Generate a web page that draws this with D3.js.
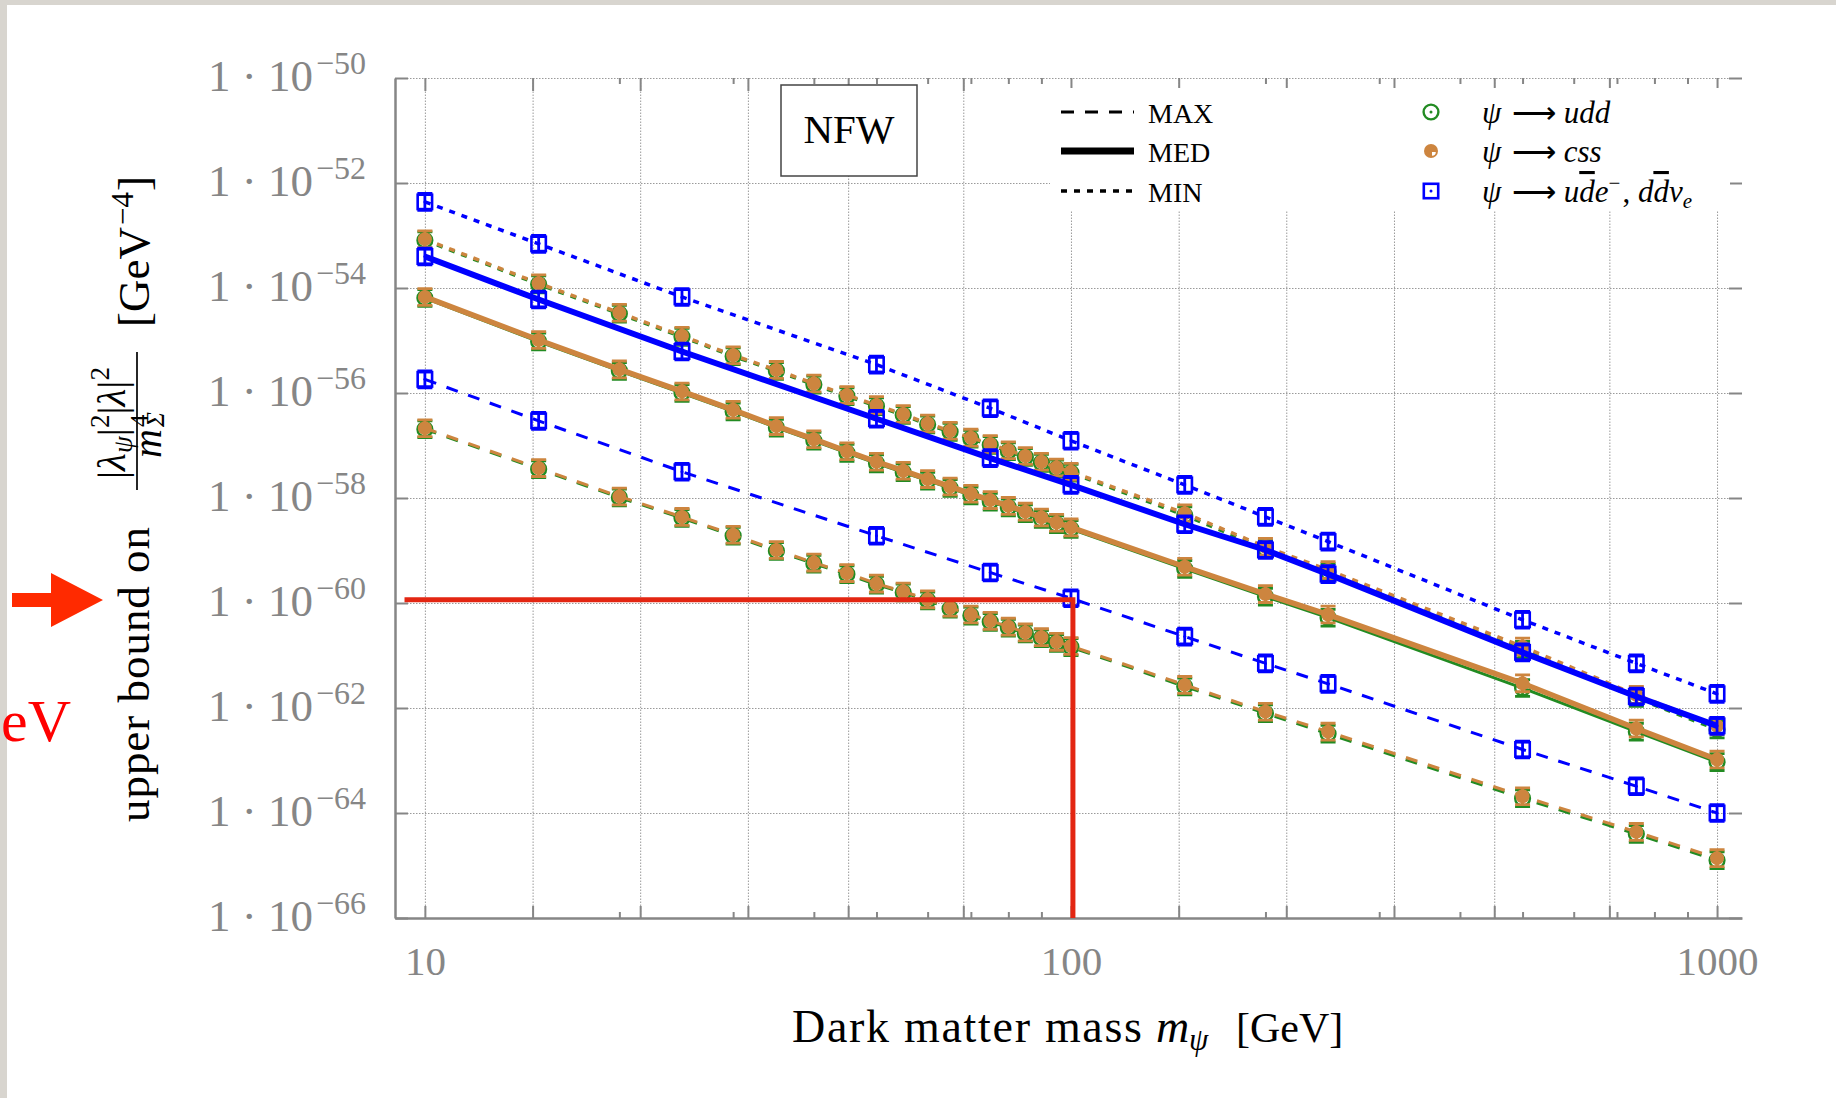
<!DOCTYPE html>
<html>
<head>
<meta charset="utf-8">
<script src="https://cdn.jsdelivr.net/npm/d3@7/dist/d3.min.js"></script>
<style>
  body { margin: 0; background: #fff; }
  text { font-family: "Liberation Serif", "Times New Roman", serif; }
</style>
</head>
<body>
<div id="chart"></div>
<script>
// ---------------- data (log10 of the upper bound, GeV^-4) ----------------
// masses of the udd / css scans
var massFine = [10, 15, 20, 25, 30, 35, 40, 45, 50, 55, 60, 65, 70, 75, 80, 85, 90, 95, 100, 150, 200, 250, 500, 750, 1000];
// masses of the u dbar e / d dbar nu scan
var massBlue = [10, 15, 25, 50, 75, 100, 150, 200, 250, 500, 750, 1000];

var uddMax = [-56.69, -57.45, -57.99, -58.38, -58.72, -59.01, -59.25, -59.45, -59.65, -59.80, -59.95, -60.11, -60.24, -60.36, -60.47, -60.58, -60.67, -60.76, -60.84, -61.59, -62.10, -62.49, -63.72, -64.40, -64.90];
var uddMed = [-54.19, -55.02, -55.58, -56.00, -56.35, -56.66, -56.91, -57.14, -57.34, -57.51, -57.67, -57.81, -57.95, -58.07, -58.18, -58.29, -58.40, -58.50, -58.59, -59.35, -59.88, -60.28, -61.62, -62.45, -63.03];
var uddMin = [-53.09, -53.93, -54.49, -54.93, -55.30, -55.58, -55.84, -56.06, -56.25, -56.42, -56.60, -56.74, -56.87, -56.99, -57.11, -57.22, -57.33, -57.44, -57.52, -58.33, -58.97, -59.41, -60.89, -61.81, -62.41];

var cssMax = [-56.67, -57.43, -57.97, -58.36, -58.70, -58.99, -59.23, -59.43, -59.63, -59.78, -59.93, -60.09, -60.22, -60.34, -60.45, -60.56, -60.65, -60.74, -60.82, -61.56, -62.07, -62.45, -63.68, -64.36, -64.86];
var cssMed = [-54.17, -54.99, -55.55, -55.97, -56.32, -56.63, -56.88, -57.11, -57.31, -57.48, -57.64, -57.78, -57.92, -58.04, -58.15, -58.26, -58.37, -58.47, -58.56, -59.31, -59.83, -60.22, -61.53, -62.39, -62.98];
var cssMin = [-53.07, -53.91, -54.47, -54.91, -55.28, -55.56, -55.82, -56.04, -56.23, -56.40, -56.58, -56.72, -56.85, -56.97, -57.09, -57.20, -57.31, -57.42, -57.50, -58.29, -58.93, -59.37, -60.83, -61.75, -62.34];

var udeMax = [-55.74, -56.53, -57.50, -58.72, -59.42, -59.91, -60.64, -61.15, -61.54, -62.79, -63.49, -64.00];
var udeMed = [-53.40, -54.22, -55.21, -56.49, -57.24, -57.75, -58.50, -58.99, -59.45, -60.94, -61.78, -62.34];
var udeMin = [-52.36, -53.16, -54.17, -55.46, -56.29, -56.91, -57.75, -58.36, -58.83, -60.32, -61.15, -61.73];

// half-height of the error bars, in decades
var errDex = 0.16;

// axes
var xDomain = [8.99, 1093];
var yExponents = [-50, -52, -54, -56, -58, -60, -62, -64, -66];
var xGridTicks = [10, 14.68, 21.54, 31.62, 45.2, 68.13, 100, 146.8, 215.4, 316.2, 452, 681.3, 1000];
var xMinorTicks = [20, 30, 40, 50, 60, 70, 80, 90, 200, 300, 400, 500, 600, 700, 800, 900];
var xLabelTicks = [10, 100, 1000];

// legend texts
var profileNames = ["MAX", "MED", "MIN"];
var profileKeys = ["max", "med", "min"];
var channelLabels = [
  [["ψ", "i"], [" ⟶ ", "r"], ["udd", "i"]],
  [["ψ", "i"], [" ⟶ ", "r"], ["css", "i"]],
  [["ψ", "i"], [" ⟶ ", "r"], ["u", "i"], ["d", "o"], ["e", "i"], ["−", "sup"], [", ", "r"], ["d", "i"], ["d", "o"], ["ν", "i"], ["e", "sub"]]
];
var haloName = "NFW";

// the red mark: 100 GeV and the bound it reads off
var markMass = 100.7;
var markStart = 9.3;
var markBound = 1.15e-60;

// ---------------- layout ----------------
var svgWidth = 1836;
var svgHeight = 1098;
var plot = { left: 395, right: 1742, top: 78, bottom: 918 };
var grey = "#868686";

var svg = d3.select("#chart").append("svg")
  .attr("width", svgWidth)
  .attr("height", svgHeight);

// grey page border from the slide
svg.append("rect").attr("x", 0).attr("y", 0).attr("width", svgWidth).attr("height", 5).attr("fill", "#d8d5cf");
svg.append("rect").attr("x", 0).attr("y", 0).attr("width", 7).attr("height", svgHeight).attr("fill", "#d8d5cf");

var x = d3.scaleLog().domain(xDomain).range([plot.left, plot.right]);
var y = d3.scaleLog()
  .domain([Math.pow(10, -66), Math.pow(10, -50)])
  .range([plot.bottom, plot.top]);
var yTicks = yExponents.map(e => Math.pow(10, e));

// ---------------- grid ----------------
var gridX = svg.append("g")
  .attr("transform", `translate(0, ${plot.bottom})`)
  .call(d3.axisBottom(x).tickValues(xGridTicks).tickSize(-(plot.bottom - plot.top)).tickFormat(""));
var gridY = svg.append("g")
  .attr("transform", `translate(${plot.left}, 0)`)
  .call(d3.axisLeft(y).tickValues(yTicks).tickSize(-(plot.right - plot.left)).tickFormat(""));
[gridX, gridY].forEach(function(g) {
  g.select(".domain").remove();
  g.selectAll(".tick line")
    .attr("stroke", "#9a9a9a")
    .attr("stroke-width", 1)
    .attr("stroke-dasharray", "1.5 1.5");
});

// ---------------- axes ----------------
function styleAxis(g) {
  g.attr("color", grey);
  g.selectAll(".tick line").attr("stroke-width", 2);
  g.select(".domain").attr("stroke-width", 2.5);
}

var bottomAxis = svg.append("g")
  .attr("transform", `translate(0, ${plot.bottom})`)
  .call(d3.axisBottom(x).tickValues(xGridTicks).tickSize(-12).tickSizeOuter(0).tickPadding(28)
    .tickFormat(d => xLabelTicks.indexOf(d) >= 0 ? String(d) : ""));
bottomAxis.attr("font-family", "'Liberation Serif', serif").attr("font-size", 41);
styleAxis(bottomAxis);

var bottomMinor = svg.append("g")
  .attr("transform", `translate(0, ${plot.bottom})`)
  .call(d3.axisBottom(x).tickValues(xMinorTicks).tickSize(-6).tickFormat(""));
bottomMinor.select(".domain").remove();
styleAxis(bottomMinor);

var topAxis = svg.append("g")
  .attr("transform", `translate(0, ${plot.top})`)
  .call(d3.axisTop(x).tickValues(xGridTicks).tickSize(-13).tickFormat(""));
topAxis.select(".domain").remove();
styleAxis(topAxis);

var topMinor = svg.append("g")
  .attr("transform", `translate(0, ${plot.top})`)
  .call(d3.axisTop(x).tickValues(xMinorTicks).tickSize(-6).tickFormat(""));
topMinor.select(".domain").remove();
styleAxis(topMinor);

var leftAxis = svg.append("g")
  .attr("transform", `translate(${plot.left}, 0)`)
  .call(d3.axisLeft(y).tickValues(yTicks).tickSize(-13).tickSizeOuter(0).tickPadding(29));
leftAxis.attr("font-family", "'Liberation Serif', serif").attr("font-size", 45);
styleAxis(leftAxis);
leftAxis.selectAll(".tick text").each(function(d) {
  var t = d3.select(this).text(null).attr("dy", null).attr("y", 12);
  t.append("tspan").text("1 · 10");
  t.append("tspan")
    .attr("dx", 3)
    .attr("dy", -17)
    .attr("font-size", 32)
    .text("\u2212" + Math.abs(Math.round(Math.log10(d))));
});

var rightAxis = svg.append("g")
  .attr("transform", `translate(${plot.right}, 0)`)
  .call(d3.axisRight(y).tickValues(yTicks).tickSize(-13).tickFormat(""));
rightAxis.select(".domain").remove();
styleAxis(rightAxis);

// ---------------- series ----------------
var series = [
  { mass: massFine, max: uddMax, med: uddMed, min: uddMin, color: "#228b22", marker: "ring", medWidth: 3 },
  { mass: massFine, max: cssMax, med: cssMed, min: cssMin, color: "#cd853f", marker: "disc", medWidth: 5.5 },
  { mass: massBlue, max: udeMax, med: udeMed, min: udeMin, color: "#0000ff", marker: "square", medWidth: 6 }
];
var lineStyle = {
  max: { dash: "12 11", width: 3 },
  med: { dash: null, width: 6 },
  min: { dash: "6 7", width: 3.5 }
};

var line = d3.line()
  .x(d => x(d[0]))
  .y(d => y(Math.pow(10, d[1])));

var dataGroup = svg.append("g");

function drawMarker(g, s, px, py) {
  if (s.marker === "ring") {
    g.append("circle").attr("cx", px).attr("cy", py).attr("r", 7.4)
      .attr("fill", "none").attr("stroke", s.color).attr("stroke-width", 2.4);
    g.append("circle").attr("cx", px).attr("cy", py).attr("r", 1.5).attr("fill", s.color);
  } else if (s.marker === "disc") {
    g.append("circle").attr("cx", px).attr("cy", py).attr("r", 7).attr("fill", s.color);
  } else {
    g.append("rect").attr("x", px - 7.2).attr("y", py - 7.2).attr("width", 14.4).attr("height", 14.4)
      .attr("fill", "none").attr("stroke", s.color).attr("stroke-width", 2.6);
    g.append("circle").attr("cx", px).attr("cy", py).attr("r", 1.5).attr("fill", s.color);
  }
}

series.forEach(function(s) {
  var g = dataGroup.append("g");
  profileKeys.forEach(function(k) {
    var pts = s.mass.map((m, i) => [m, s[k][i]]);
    g.append("path")
      .datum(pts)
      .attr("d", line)
      .attr("fill", "none")
      .attr("stroke", s.color)
      .attr("stroke-width", k === "med" ? s.medWidth : lineStyle[k].width)
      .attr("stroke-dasharray", lineStyle[k].dash);
  });
  profileKeys.forEach(function(k) {
    s.mass.forEach(function(m, i) {
      var v = s[k][i];
      var px = x(m);
      var py = y(Math.pow(10, v));
      var yTop = y(Math.pow(10, v + errDex));
      var yBot = y(Math.pow(10, v - errDex));
      g.append("path")
        .attr("d", `M${px - 7.5},${yTop}H${px + 7.5}M${px},${yTop}V${yBot}M${px - 7.5},${yBot}H${px + 7.5}`)
        .attr("fill", "none")
        .attr("stroke", s.color)
        .attr("stroke-width", 2.8);
      drawMarker(g, s, px, py);
    });
  });
});

// ---------------- red mark ----------------
svg.append("path")
  .attr("d", `M${x(markStart)},${y(markBound)}H${x(markMass)}V${plot.bottom}`)
  .attr("fill", "none")
  .attr("stroke", "#e32612")
  .attr("stroke-width", 5)
  .attr("stroke-linejoin", "miter");

svg.append("path")
  .attr("d", "M12,593H51V573L103,600L51,627V607H12Z")
  .attr("fill", "#ff2a00");

svg.append("text")
  .attr("x", 1).attr("y", 741)
  .attr("font-size", 60)
  .attr("fill", "#ff0000")
  .text("eV");

// ---------------- NFW box ----------------
svg.append("rect")
  .attr("x", 781).attr("y", 85).attr("width", 136).attr("height", 91)
  .attr("fill", "#fff")
  .attr("stroke", "#444")
  .attr("stroke-width", 1.5);
svg.append("text")
  .attr("x", 849).attr("y", 143)
  .attr("text-anchor", "middle")
  .attr("font-size", 41)
  .text(haloName);

// ---------------- legend ----------------
var legendRows = [112, 151, 191];
var legend = svg.append("g");
legend.append("rect").attr("x", 1050).attr("y", 88).attr("width", 680).attr("height", 122).attr("fill", "#fff");

profileNames.forEach(function(name, i) {
  var st = lineStyle[profileKeys[i]];
  legend.append("line")
    .attr("x1", 1061).attr("x2", 1134)
    .attr("y1", legendRows[i]).attr("y2", legendRows[i])
    .attr("stroke", "#000")
    .attr("stroke-width", profileKeys[i] === "med" ? 7 : st.width)
    .attr("stroke-dasharray", profileKeys[i] === "max" ? "13 11" : st.dash);
  legend.append("text")
    .attr("x", 1148).attr("y", legendRows[i] + 11)
    .attr("font-size", 28)
    .text(name);
});

channelLabels.forEach(function(parts, i) {
  var s = series[i];
  var py = legendRows[i];
  drawMarker(legend, s, 1431, py);
  if (s.marker === "disc") {
    legend.append("path")
      .attr("d", `M1432,${py + 1}h3.8a3.8,3.8 0 0 1 -3.8,3.8z`)
      .attr("fill", "#fff");
  }
  var t = legend.append("text")
    .attr("x", 1482).attr("y", py + 11)
    .attr("font-size", 31);
  var shift = 0;
  parts.forEach(function(p) {
    var ts = t.append("tspan").text(p[0]);
    if (p[1] === "i" || p[1] === "o" || p[1] === "sub") ts.attr("font-style", "italic");
    if (p[1] === "o") ts.style("text-decoration", "overline");
    if (p[0] === " ⟶ ") ts.attr("dx", 3);
    if (p[0] === ", ") ts.attr("dx", 2);
    if (p[1] === "sup") { ts.attr("dy", -12 - shift).attr("font-size", 21); shift = -12; }
    else if (p[1] === "sub") { ts.attr("dy", 6 - shift).attr("font-size", 21); shift = 6; }
    else if (shift !== 0) { ts.attr("dy", -shift); shift = 0; }
  });
});

// ---------------- axis titles ----------------
svg.append("text")
  .attr("x", 792).attr("y", 1042)
  .attr("font-size", 46)
  .attr("textLength", 350).attr("lengthAdjust", "spacing")
  .text("Dark matter mass");
svg.append("text")
  .attr("x", 1156).attr("y", 1042)
  .attr("font-size", 46).attr("font-style", "italic")
  .text("m");
svg.append("text")
  .attr("x", 1189).attr("y", 1050)
  .attr("font-size", 31).attr("font-style", "italic")
  .text("ψ");
svg.append("text")
  .attr("x", 1236).attr("y", 1042)
  .attr("font-size", 42)
  .text("[GeV]");

var yTitle = svg.append("g")
  .attr("transform", "translate(149, 822) rotate(-90)");
yTitle.append("text")
  .attr("x", 0).attr("y", 0)
  .attr("font-size", 45)
  .attr("textLength", 295).attr("lengthAdjust", "spacing")
  .text("upper bound on");

var num = yTitle.append("text")
  .attr("x", 399).attr("y", -24)
  .attr("text-anchor", "middle")
  .attr("font-size", 41);
num.append("tspan").text("|");
num.append("tspan").attr("font-style", "italic").text("λ");
num.append("tspan").attr("font-style", "italic").attr("font-size", 27).attr("dy", 7).text("ψ");
num.append("tspan").attr("dy", -7).text("|");
num.append("tspan").attr("font-size", 27).attr("dy", -16).text("2");
num.append("tspan").attr("dy", 16).text("|");
num.append("tspan").attr("font-style", "italic").text("λ");
num.append("tspan").text("|");
num.append("tspan").attr("font-size", 27).attr("dy", -16).text("2");

yTitle.append("line")
  .attr("x1", 332).attr("x2", 470)
  .attr("y1", -12).attr("y2", -12)
  .attr("stroke", "#000").attr("stroke-width", 1.7);

yTitle.append("text")
  .attr("x", 364).attr("y", 12)
  .attr("font-size", 40).attr("font-style", "italic")
  .text("m");
yTitle.append("text")
  .attr("x", 395).attr("y", -1)
  .attr("font-size", 25)
  .text("4");
yTitle.append("text")
  .attr("x", 395).attr("y", 15)
  .attr("font-size", 25).attr("font-style", "italic")
  .text("Σ");

var unit = yTitle.append("text")
  .attr("x", 495).attr("y", 0)
  .attr("font-size", 45);
unit.append("tspan").text("[GeV");
unit.append("tspan").attr("font-size", 31).attr("dy", -16).attr("dx", 2).text("\u22124");
unit.append("tspan").attr("dy", 16).attr("dx", 1).text("]");
</script>
</body>
</html>
